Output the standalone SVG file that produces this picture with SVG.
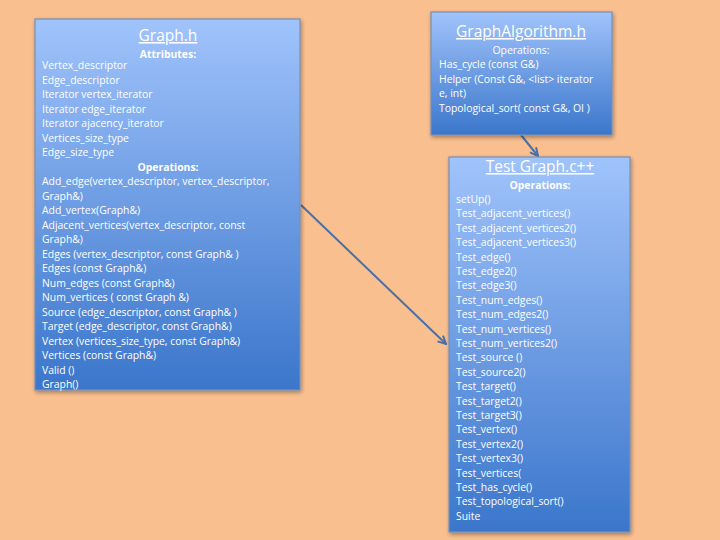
<svg xmlns="http://www.w3.org/2000/svg" width="720" height="540" viewBox="0 0 720 540">
<defs>
<linearGradient id="boxg" x1="0" y1="0" x2="0" y2="1">
<stop offset="0" stop-color="#a0c3fb"/>
<stop offset="1" stop-color="#3b76cb"/>
</linearGradient>
<filter id="sh" x="-5%" y="-5%" width="115%" height="115%">
<feGaussianBlur in="SourceAlpha" stdDeviation="2"/>
<feOffset dx="1" dy="2" result="b"/>
<feComponentTransfer><feFuncA type="linear" slope="0.35"/></feComponentTransfer>
<feMerge><feMergeNode/><feMergeNode in="SourceGraphic"/></feMerge>
</filter>
<marker id="arr" viewBox="0 0 10 10" refX="9" refY="5" markerWidth="5" markerHeight="5" orient="auto">
<path d="M1,1 L9,5 L1,9" fill="none" stroke="#4a70a8" stroke-width="2"/>
</marker>
</defs>
<style>
.box{fill:url(#boxg);stroke:#7a8fb0;stroke-width:1.2;filter:url(#sh)}
text{font-family:"Open Sans","Liberation Sans",sans-serif;fill:#ffffff}
.t{font-size:10.4px}
.h{font-size:10.4px;font-weight:bold;text-anchor:middle}
.hn{font-size:10.4px;text-anchor:middle}
.ti{font-size:15.5px;text-anchor:middle;text-decoration:underline}
.c{stroke:#4a70a8;stroke-width:2;fill:none}
</style>
<rect width="720" height="540" fill="#f9bf8f"/>
<g id="connectors">
<line class="c" x1="301" y1="205" x2="446" y2="344" marker-end="url(#arr)"/>
<line class="c" x1="521" y1="135" x2="538" y2="156" marker-end="url(#arr)"/>
</g>
<g id="graph_h">
<rect class="box" x="35" y="19" width="265" height="371"/>
<text class="ti" x="168" y="41">Graph.h</text>
<text class="h" x="168" y="57.5">Attributes:</text>
<text class="t" x="42" y="69">Vertex_descriptor</text>
<text class="t" x="42" y="83.5">Edge_descriptor</text>
<text class="t" x="42" y="98">Iterator vertex_iterator</text>
<text class="t" x="42" y="112.5">Iterator edge_iterator</text>
<text class="t" x="42" y="127">Iterator ajacency_iterator</text>
<text class="t" x="42" y="141.5">Vertices_size_type</text>
<text class="t" x="42" y="156">Edge_size_type</text>
<text class="h" x="168" y="170.5">Operations:</text>
<text class="t" x="42" y="185">Add_edge(vertex_descriptor, vertex_descriptor,</text>
<text class="t" x="42" y="199.5">Graph&amp;)</text>
<text class="t" x="42" y="214">Add_vertex(Graph&amp;)</text>
<text class="t" x="42" y="228.5">Adjacent_vertices(vertex_descriptor, const</text>
<text class="t" x="42" y="243">Graph&amp;)</text>
<text class="t" x="42" y="257.5">Edges (vertex_descriptor, const Graph&amp; )</text>
<text class="t" x="42" y="272">Edges (const Graph&amp;)</text>
<text class="t" x="42" y="286.5">Num_edges (const Graph&amp;)</text>
<text class="t" x="42" y="301">Num_vertices ( const Graph &amp;)</text>
<text class="t" x="42" y="315.5">Source (edge_descriptor, const Graph&amp; )</text>
<text class="t" x="42" y="330">Target (edge_descriptor, const Graph&amp;)</text>
<text class="t" x="42" y="344.5">Vertex (vertices_size_type, const Graph&amp;)</text>
<text class="t" x="42" y="359">Vertices (const Graph&amp;)</text>
<text class="t" x="42" y="373.5">Valid ()</text>
<text class="t" x="42" y="388">Graph()</text>
</g>
<g id="graphalgorithm_h">
<rect class="box" x="431" y="12" width="181" height="123"/>
<text class="ti" x="521" y="37">GraphAlgorithm.h</text>
<text class="hn" x="521" y="54">Operations:</text>
<text class="t" x="439" y="68">Has_cycle (const G&amp;)</text>
<text class="t" x="439" y="82.5">Helper (Const G&amp;, &lt;list&gt; iterator</text>
<text class="t" x="439" y="97">e, int)</text>
<text class="t" x="439" y="111.5">Topological_sort( const G&amp;, OI )</text>
</g>
<g id="test_graph">
<rect class="box" x="449" y="157" width="181" height="375"/>
<text class="ti" x="540" y="172">Test Graph.c++</text>
<text class="h" x="540" y="189">Operations:</text>
<text class="t" x="456" y="203">setUp()</text>
<text class="t" x="456" y="217.4">Test_adjacent_vertices()</text>
<text class="t" x="456" y="231.8">Test_adjacent_vertices2()</text>
<text class="t" x="456" y="246.2">Test_adjacent_vertices3()</text>
<text class="t" x="456" y="260.6">Test_edge()</text>
<text class="t" x="456" y="275">Test_edge2()</text>
<text class="t" x="456" y="289.4">Test_edge3()</text>
<text class="t" x="456" y="303.8">Test_num_edges()</text>
<text class="t" x="456" y="318.2">Test_num_edges2()</text>
<text class="t" x="456" y="332.6">Test_num_vertices()</text>
<text class="t" x="456" y="347">Test_num_vertices2()</text>
<text class="t" x="456" y="361.4">Test_source ()</text>
<text class="t" x="456" y="375.8">Test_source2()</text>
<text class="t" x="456" y="390.2">Test_target()</text>
<text class="t" x="456" y="404.6">Test_target2()</text>
<text class="t" x="456" y="419">Test_target3()</text>
<text class="t" x="456" y="433.4">Test_vertex()</text>
<text class="t" x="456" y="447.8">Test_vertex2()</text>
<text class="t" x="456" y="462.2">Test_vertex3()</text>
<text class="t" x="456" y="476.6">Test_vertices(</text>
<text class="t" x="456" y="491">Test_has_cycle()</text>
<text class="t" x="456" y="505.4">Test_topological_sort()</text>
<text class="t" x="456" y="519.8">Suite</text>
</g>
</svg>
